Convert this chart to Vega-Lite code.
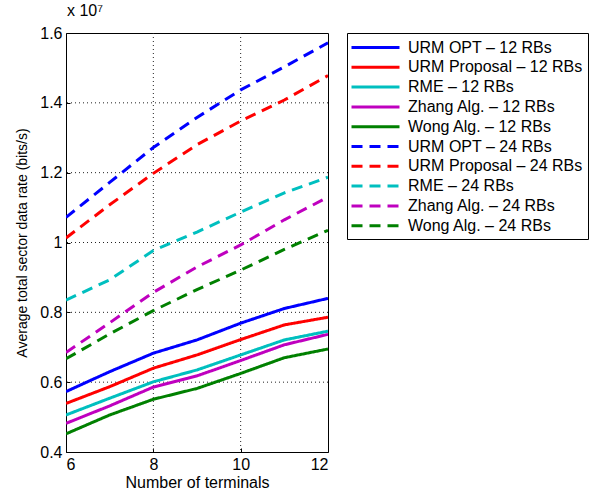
{
  "$schema": "https://vega.github.io/schema/vega-lite/v6.json",
  "width": 262,
  "height": 419,
  "autosize": {"type": "none"},
  "padding": {"left": 66, "top": 33, "right": 268, "bottom": 43},
  "title": {"text": "x 10⁷", "anchor": "start", "frame": "group", "fontSize": 16, "fontWeight": "normal", "font": "Liberation Sans", "offset": 6, "dx": 1},
  "config": {
    "font": "Liberation Sans",
    "view": {"stroke": "black", "strokeWidth": 1},
    "axis": {"grid": true, "zindex": 0, "labelFontSize": 16, "titleFontSize": 16, "titleFontWeight": "normal", "labelColor": "black", "titleColor": "black", "domain": false, "ticks": true, "tickSize": -4, "tickColor": "black", "tickWidth": 1, "labelPadding": 8, "gridColor": "#222222", "gridDash": [1, 3], "gridOpacity": 1, "gridWidth": 1},
    "legend": {"orient": "right", "offset": 19, "strokeColor": "black", "fillColor": "white", "padding": 5, "labelFontSize": 16, "labelColor": "black", "labelLimit": 400, "symbolType": "M-3,0H3", "symbolSize": 256, "symbolStrokeWidth": 3, "symbolOffset": 14, "labelOffset": 23, "rowPadding": 1.8, "title": null}
  },
  "data": {"values": [
    {"n": 6, "series": "URM OPT – 12 RBs", "rate": 5730000},
    {"n": 7, "series": "URM OPT – 12 RBs", "rate": 6300000},
    {"n": 8, "series": "URM OPT – 12 RBs", "rate": 6830000},
    {"n": 9, "series": "URM OPT – 12 RBs", "rate": 7210000},
    {"n": 10, "series": "URM OPT – 12 RBs", "rate": 7690000},
    {"n": 11, "series": "URM OPT – 12 RBs", "rate": 8110000},
    {"n": 12, "series": "URM OPT – 12 RBs", "rate": 8400000},
    {"n": 6, "series": "URM Proposal – 12 RBs", "rate": 5390000},
    {"n": 7, "series": "URM Proposal – 12 RBs", "rate": 5870000},
    {"n": 8, "series": "URM Proposal – 12 RBs", "rate": 6400000},
    {"n": 9, "series": "URM Proposal – 12 RBs", "rate": 6780000},
    {"n": 10, "series": "URM Proposal – 12 RBs", "rate": 7220000},
    {"n": 11, "series": "URM Proposal – 12 RBs", "rate": 7640000},
    {"n": 12, "series": "URM Proposal – 12 RBs", "rate": 7860000},
    {"n": 6, "series": "RME – 12 RBs", "rate": 5060000},
    {"n": 7, "series": "RME – 12 RBs", "rate": 5540000},
    {"n": 8, "series": "RME – 12 RBs", "rate": 6010000},
    {"n": 9, "series": "RME – 12 RBs", "rate": 6350000},
    {"n": 10, "series": "RME – 12 RBs", "rate": 6780000},
    {"n": 11, "series": "RME – 12 RBs", "rate": 7210000},
    {"n": 12, "series": "RME – 12 RBs", "rate": 7460000},
    {"n": 6, "series": "Zhang Alg. – 12 RBs", "rate": 4820000},
    {"n": 7, "series": "Zhang Alg. – 12 RBs", "rate": 5320000},
    {"n": 8, "series": "Zhang Alg. – 12 RBs", "rate": 5860000},
    {"n": 9, "series": "Zhang Alg. – 12 RBs", "rate": 6180000},
    {"n": 10, "series": "Zhang Alg. – 12 RBs", "rate": 6620000},
    {"n": 11, "series": "Zhang Alg. – 12 RBs", "rate": 7070000},
    {"n": 12, "series": "Zhang Alg. – 12 RBs", "rate": 7370000},
    {"n": 6, "series": "Wong Alg. – 12 RBs", "rate": 4520000},
    {"n": 7, "series": "Wong Alg. – 12 RBs", "rate": 5060000},
    {"n": 8, "series": "Wong Alg. – 12 RBs", "rate": 5510000},
    {"n": 9, "series": "Wong Alg. – 12 RBs", "rate": 5820000},
    {"n": 10, "series": "Wong Alg. – 12 RBs", "rate": 6250000},
    {"n": 11, "series": "Wong Alg. – 12 RBs", "rate": 6700000},
    {"n": 12, "series": "Wong Alg. – 12 RBs", "rate": 6950000},
    {"n": 6, "series": "URM OPT – 24 RBs", "rate": 10720000},
    {"n": 7, "series": "URM OPT – 24 RBs", "rate": 11720000},
    {"n": 8, "series": "URM OPT – 24 RBs", "rate": 12720000},
    {"n": 9, "series": "URM OPT – 24 RBs", "rate": 13580000},
    {"n": 10, "series": "URM OPT – 24 RBs", "rate": 14370000},
    {"n": 11, "series": "URM OPT – 24 RBs", "rate": 15030000},
    {"n": 12, "series": "URM OPT – 24 RBs", "rate": 15720000},
    {"n": 6, "series": "URM Proposal – 24 RBs", "rate": 10130000},
    {"n": 7, "series": "URM Proposal – 24 RBs", "rate": 11080000},
    {"n": 8, "series": "URM Proposal – 24 RBs", "rate": 11980000},
    {"n": 9, "series": "URM Proposal – 24 RBs", "rate": 12800000},
    {"n": 10, "series": "URM Proposal – 24 RBs", "rate": 13480000},
    {"n": 11, "series": "URM Proposal – 24 RBs", "rate": 14080000},
    {"n": 12, "series": "URM Proposal – 24 RBs", "rate": 14780000},
    {"n": 6, "series": "RME – 24 RBs", "rate": 8350000},
    {"n": 7, "series": "RME – 24 RBs", "rate": 8930000},
    {"n": 8, "series": "RME – 24 RBs", "rate": 9770000},
    {"n": 9, "series": "RME – 24 RBs", "rate": 10300000},
    {"n": 10, "series": "RME – 24 RBs", "rate": 10870000},
    {"n": 11, "series": "RME – 24 RBs", "rate": 11420000},
    {"n": 12, "series": "RME – 24 RBs", "rate": 11870000},
    {"n": 6, "series": "Zhang Alg. – 24 RBs", "rate": 6850000},
    {"n": 7, "series": "Zhang Alg. – 24 RBs", "rate": 7700000},
    {"n": 8, "series": "Zhang Alg. – 24 RBs", "rate": 8570000},
    {"n": 9, "series": "Zhang Alg. – 24 RBs", "rate": 9300000},
    {"n": 10, "series": "Zhang Alg. – 24 RBs", "rate": 9930000},
    {"n": 11, "series": "Zhang Alg. – 24 RBs", "rate": 10650000},
    {"n": 12, "series": "Zhang Alg. – 24 RBs", "rate": 11300000},
    {"n": 6, "series": "Wong Alg. – 24 RBs", "rate": 6670000},
    {"n": 7, "series": "Wong Alg. – 24 RBs", "rate": 7380000},
    {"n": 8, "series": "Wong Alg. – 24 RBs", "rate": 8050000},
    {"n": 9, "series": "Wong Alg. – 24 RBs", "rate": 8650000},
    {"n": 10, "series": "Wong Alg. – 24 RBs", "rate": 9210000},
    {"n": 11, "series": "Wong Alg. – 24 RBs", "rate": 9800000},
    {"n": 12, "series": "Wong Alg. – 24 RBs", "rate": 10350000}
  ]},
  "layer": [
    {
      "mark": {"type": "rule", "color": "#222222", "strokeWidth": 1, "strokeDash": [1, 3]},
      "data": {"values": [{"g": 8}, {"g": 10}]},
      "encoding": {"x": {"field": "g", "type": "quantitative"}}
    },
    {
      "mark": {"type": "rule", "color": "#222222", "strokeWidth": 1, "strokeDash": [1, 3]},
      "data": {"values": [{"g": 6000000}, {"g": 8000000}, {"g": 10000000}, {"g": 12000000}, {"g": 14000000}]},
      "encoding": {"y": {"field": "g", "type": "quantitative"}}
    },
    {
      "mark": {"type": "line", "strokeWidth": 3, "strokeCap": "butt", "clip": true},
      "encoding": {
        "x": {"field": "n", "type": "quantitative", "title": "Number of terminals", "scale": {"domain": [6, 12], "nice": false, "zero": false}, "axis": {"grid": false, "values": [6, 8, 10, 12], "titlePadding": 2}},
        "y": {"field": "rate", "type": "quantitative", "title": "Average total sector data rate (bits/s)", "scale": {"domain": [4000000, 16000000], "nice": false, "zero": false}, "axis": {"grid": false, "values": [4000000, 6000000, 8000000, 10000000, 12000000, 14000000, 16000000], "labelExpr": "format(datum.value / 10000000, '.2~f')", "titlePadding": 10, "titleFontSize": 14}},
        "color": {"field": "series", "type": "nominal", "scale": {
          "domain": ["URM OPT – 12 RBs", "URM Proposal – 12 RBs", "RME – 12 RBs", "Zhang Alg. – 12 RBs", "Wong Alg. – 12 RBs", "URM OPT – 24 RBs", "URM Proposal – 24 RBs", "RME – 24 RBs", "Zhang Alg. – 24 RBs", "Wong Alg. – 24 RBs"],
          "range": ["#0000ff", "#ff0000", "#00bfbf", "#bf00bf", "#008000", "#0000ff", "#ff0000", "#00bfbf", "#bf00bf", "#008000"]}},
        "strokeDash": {"field": "series", "type": "nominal", "scale": {
          "domain": ["URM OPT – 12 RBs", "URM Proposal – 12 RBs", "RME – 12 RBs", "Zhang Alg. – 12 RBs", "Wong Alg. – 12 RBs", "URM OPT – 24 RBs", "URM Proposal – 24 RBs", "RME – 24 RBs", "Zhang Alg. – 24 RBs", "Wong Alg. – 24 RBs"],
          "range": [[1, 0], [1, 0], [1, 0], [1, 0], [1, 0], [11, 7], [11, 7], [11, 7], [11, 7], [11, 7]]}}
      }
    }
  ]
}
